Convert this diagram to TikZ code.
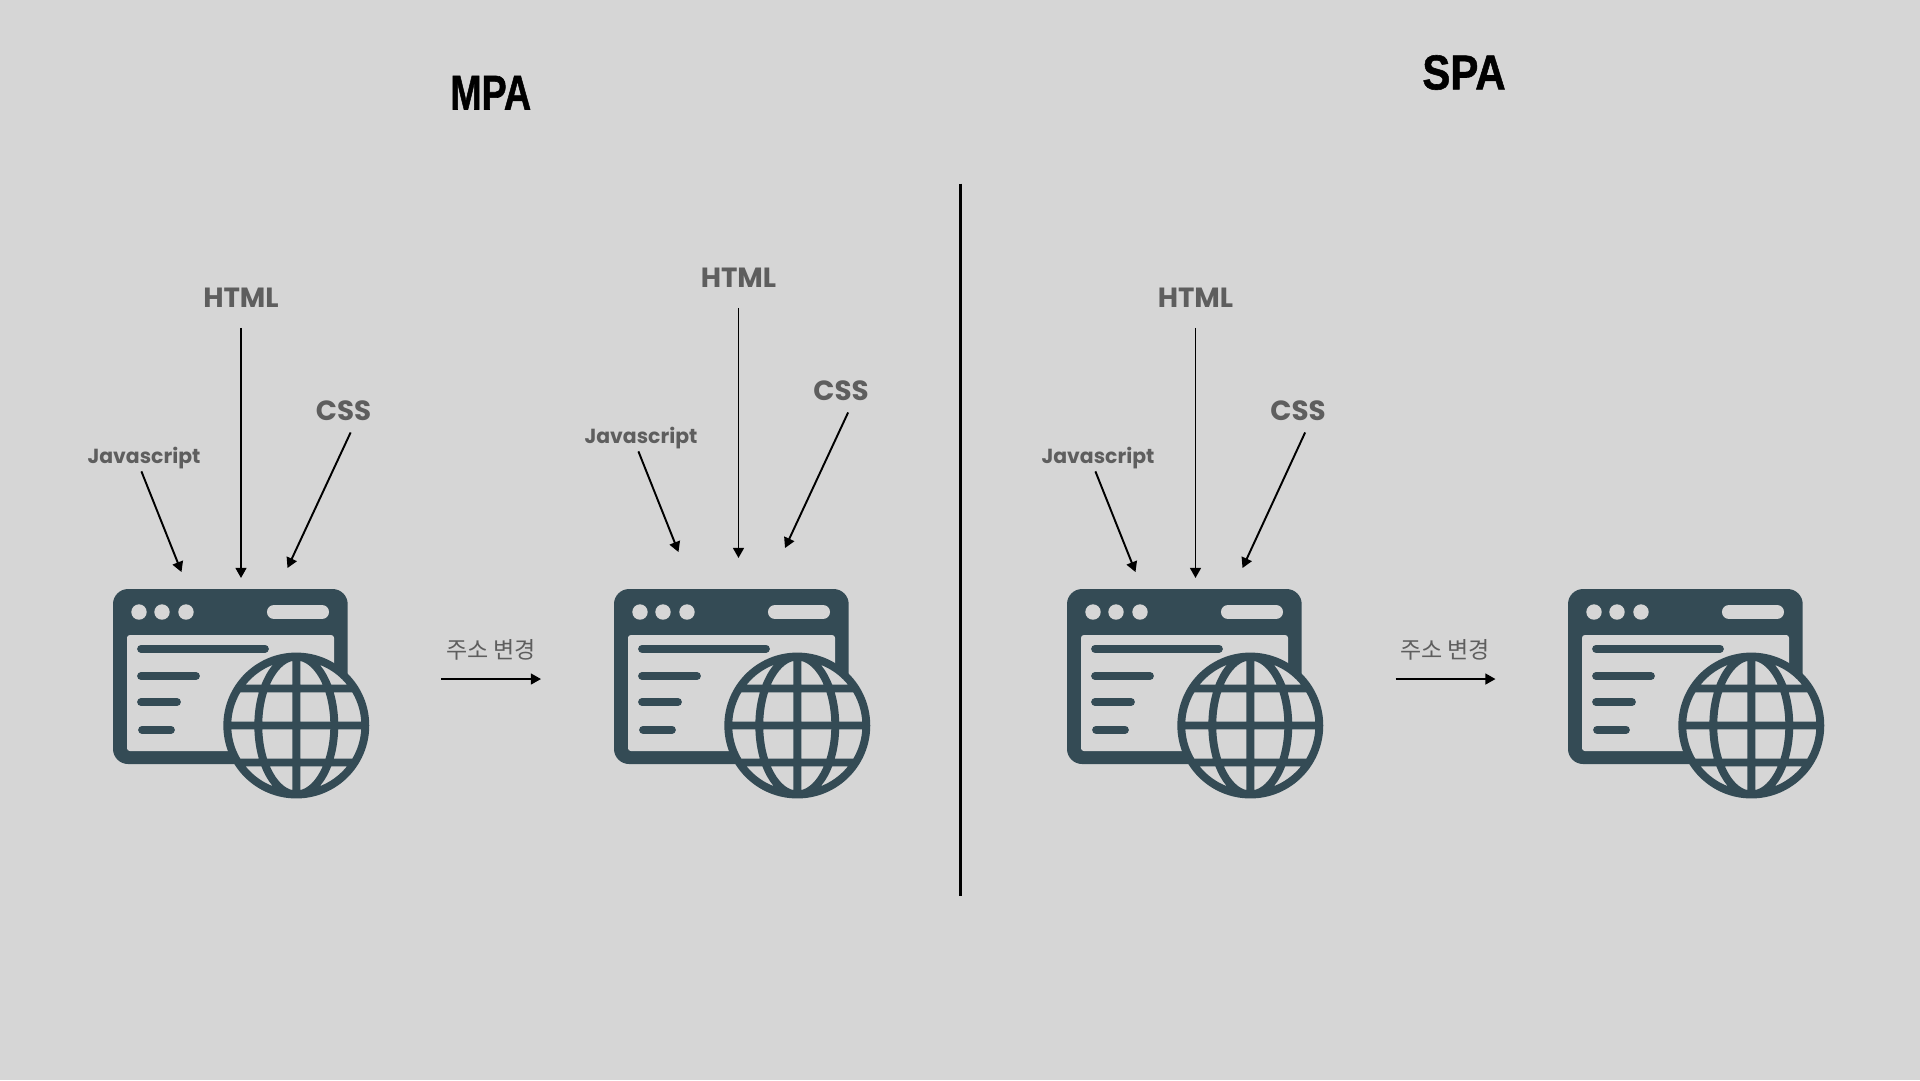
\documentclass[tikz,border=0pt]{standalone}
\usepackage{fontspec}
\usetikzlibrary{arrows.meta}
\setmainfont{Liberation Sans}
\newfontfamily\titlefont[BoldFeatures={FakeBold=1.2}]{Liberation Sans}
\newfontfamily\techfont{Poppins}
\newfontfamily\krfont{Noto Sans CJK KR}
\definecolor{softgray}{RGB}{214,214,214}
\definecolor{iconblue}{RGB}{52,75,85}
\definecolor{labelgray}{RGB}{94,94,94}
\tikzset{
  title/.style={font=\titlefont\bfseries\fontsize{13.9}{15}\selectfont, inner sep=0pt},
  techlabel/.style={font=\techfont\bfseries\fontsize{7.9}{9}\selectfont, text=labelgray, inner xsep=0pt, inner ysep=5.5pt},
  csslabel/.style={techlabel, inner ysep=3.2pt},
  jslabel/.style={font=\techfont\bfseries\fontsize{5.8}{7}\selectfont, text=labelgray, inner xsep=0pt, inner ysep=0.5pt},
  addrlabel/.style={font=\krfont\fontsize{6.55}{8}\selectfont, text=labelgray, inner sep=0pt},
  fetch/.style={-{Triangle[length=2.9pt,width=3.1pt]}, line width=0.55pt},
  pics/browser/.style={code={
    \fill[iconblue, rounded corners=4.3pt] (0,0) rectangle (234.7,175);
    \fill[softgray, rounded corners=0.8pt] (14,46) rectangle (221,162);
    \fill[softgray] (26,23) circle[radius=7.7] (49,23) circle[radius=7.7] (73,23) circle[radius=7.7];
    \draw[softgray, line width=4pt, line cap=round] (161,23) -- (209,23);
    \draw[iconblue, line width=2.2pt, line cap=round] (28,59.7) -- (152,59.7) (28,87) -- (83,87) (28,113) -- (64,113) (29,140.7) -- (58,140.7);
    \fill[softgray] (183.3,136.5) circle[radius=69];
    \draw[iconblue, line width=2.25pt] (183.3,136.5) circle[radius=69]
      (183.3,136.5) ellipse[x radius=38, y radius=69]
      (183.3,67.5) -- (183.3,205.5) (114.3,136.5) -- (252.3,136.5)
      (125.3,99.5) -- (241.3,99.5) (125.3,173.5) -- (241.3,173.5);
  }}
}
\begin{document}
\begin{tikzpicture}[x=0.1mm, y=-0.1mm]
    \fill[softgray] (0,0) rectangle (1920,1080);
    \useasboundingbox (0,0) rectangle (1920,1080);
    \node[title, xscale=0.77] (mpa) at (490.7,92.7) {MPA};
    \node[title, xscale=0.86] (spa) at (1464,72.5) {SPA};
    \coordinate (splitTop) at (960.5,183.7);
    \coordinate (splitBottom) at (960.5,896);
    \draw[line width=0.75pt] (splitTop) -- (splitBottom);
    % browser windows
    \pic (browserA) at (113,589) {browser};
    \pic (browserB) at (614,589) {browser};
    \pic (browserC) at (1067,589) {browser};
    \pic (browserD) at (1568,589) {browser};
    % first page
    \node[techlabel] (htmlA) at (241,298) {HTML};
    \node[csslabel] (cssA) at (343.5,410.5) {CSS};
    \node[jslabel] (jsA) at (144,458) {Javascript};
    \coordinate (htmlTipA) at (241,578);
    \coordinate (cssTipA) at (287.5,568);
    \coordinate (jsTipA) at (181.5,572);
    \draw[fetch] (htmlA.south) -- (htmlTipA);
    \draw[fetch] (cssA.-72) -- (cssTipA);
    \draw[fetch] (jsA.-101) -- (jsTipA);
    % second page
    \node[techlabel] (htmlB) at (738.5,278) {HTML};
    \node[csslabel] (cssB) at (841,390.5) {CSS};
    \node[jslabel] (jsB) at (641,438) {Javascript};
    \coordinate (htmlTipB) at (738.5,558);
    \coordinate (cssTipB) at (785,548);
    \coordinate (jsTipB) at (678.5,552);
    \draw[fetch] (htmlB.south) -- (htmlTipB);
    \draw[fetch] (cssB.-72) -- (cssTipB);
    \draw[fetch] (jsB.-101) -- (jsTipB);
    % third page
    \node[techlabel] (htmlC) at (1195.5,298) {HTML};
    \node[csslabel] (cssC) at (1298,410.5) {CSS};
    \node[jslabel] (jsC) at (1098,458) {Javascript};
    \coordinate (htmlTipC) at (1195.5,578);
    \coordinate (cssTipC) at (1242.5,568);
    \coordinate (jsTipC) at (1135.5,572);
    \draw[fetch] (htmlC.south) -- (htmlTipC);
    \draw[fetch] (cssC.-72) -- (cssTipC);
    \draw[fetch] (jsC.-101) -- (jsTipC);
    % address changes
    \node[addrlabel] (addrA) at (491,650) {주소 변경};
    \node[addrlabel] (addrB) at (1445,650) {주소 변경};
    \coordinate (addrFromA) at (441,679);
    \coordinate (addrToA) at (541,679);
    \coordinate (addrFromB) at (1395.5,679);
    \coordinate (addrToB) at (1495.5,679);
    \draw[fetch] (addrFromA) -- (addrToA);
    \draw[fetch] (addrFromB) -- (addrToB);
  \end{tikzpicture}
\end{document}
